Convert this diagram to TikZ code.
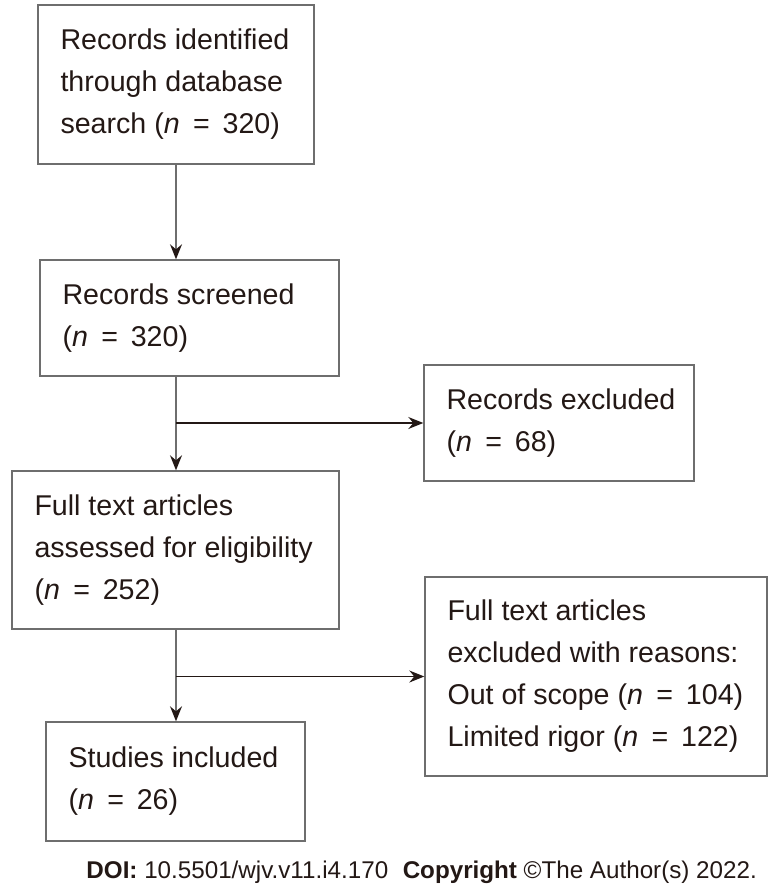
\documentclass[tikz,border=0pt]{standalone}
\usepackage{fontspec}
\setmainfont{Liberation Sans}
\usetikzlibrary{arrows.meta,calc}
\definecolor{txt}{HTML}{231815}
\definecolor{boxline}{HTML}{6E6E6E}
\newcommand{\myeq}{\hspace{0.45em}=\hspace{0.45em}}
\newcommand{\nn}{\textit{n}\kern0.5pt}
\begin{document}
\begin{tikzpicture}[x=1pt,y=-1pt,
  flowbox/.style={draw=boxline,line width=1.4pt,rectangle,inner sep=0pt},
  boxtext/.style={anchor=west,align=left,inner sep=0pt,text=txt,font=\fontsize{28.6}{42}\selectfont},
  vconn/.style={draw=boxline,line width=1.4pt,-{Stealth[length=15pt,width=12pt,inset=5pt,fill=txt,color=txt]}},
  hconn/.style={draw=txt,line width=1.2pt,-{Stealth[length=15pt,width=12pt,inset=5pt,fill=txt,color=txt]}}]
\useasboundingbox (0,0) rectangle (774,892);
\fill[white] (0,0) rectangle (774,892);
% boxes
\node[flowbox,minimum width=276pt,minimum height=159pt] (b1) at (176,84.5) {};
\node[flowbox,minimum width=299pt,minimum height=116pt] (b2) at (189.5,318) {};
\node[flowbox,minimum width=270pt,minimum height=116pt] (b3) at (559,423) {};
\node[flowbox,minimum width=327pt,minimum height=158pt] (b4) at (175.5,550) {};
\node[flowbox,minimum width=342pt,minimum height=199pt] (b5) at (596,676.5) {};
\node[flowbox,minimum width=259pt,minimum height=119pt] (b6) at (175.5,781.5) {};
% texts
\node[boxtext] (t1) at ([xshift=23pt]b1.west) {Records identified\\through database\\search (\nn\myeq320)};
\node[boxtext] (t2) at ([xshift=23pt]b2.west) {Records screened\\(\nn\myeq320)};
\node[boxtext] (t3) at ([xshift=23pt]b3.west) {Records excluded\\(\nn\myeq68)};
\node[boxtext] (t4) at ([xshift=23pt]b4.west) {Full text articles\\assessed for eligibility\\(\nn\myeq252)};
\node[boxtext] (t5) at ([xshift=23pt]b5.west) {Full text articles\\excluded with reasons:\\Out of scope (\nn\myeq104)\\Limited rigor (\nn\myeq122)};
\node[boxtext] (t6) at ([xshift=23pt]b6.west) {Studies included\\(\nn\myeq26)};
% connectors
\coordinate (j1) at (b3.west -| b1.south);
\coordinate (j2) at (b5.west -| b1.south);
\draw[vconn] (b1.south) -- (b2.north -| b1.south);
\draw[vconn] (b2.south -| b1.south) -- (b4.north -| b1.south);
\draw[hconn] (j1) -- (b3.west);
\draw[vconn] (b4.south -| b1.south) -- (b6.north -| b1.south);
\draw[hconn] (j2) -- (b5.west);
% footer
\node[anchor=base east,inner sep=0pt,text=txt,font=\fontsize{24.2}{26}\selectfont] (doi) at (757,878) {\textbf{DOI:} 10.5501/wjv.v11.i4.170\hspace{0.6em}\textbf{Copyright} ©The Author(s) 2022.};
\end{tikzpicture}
\end{document}
